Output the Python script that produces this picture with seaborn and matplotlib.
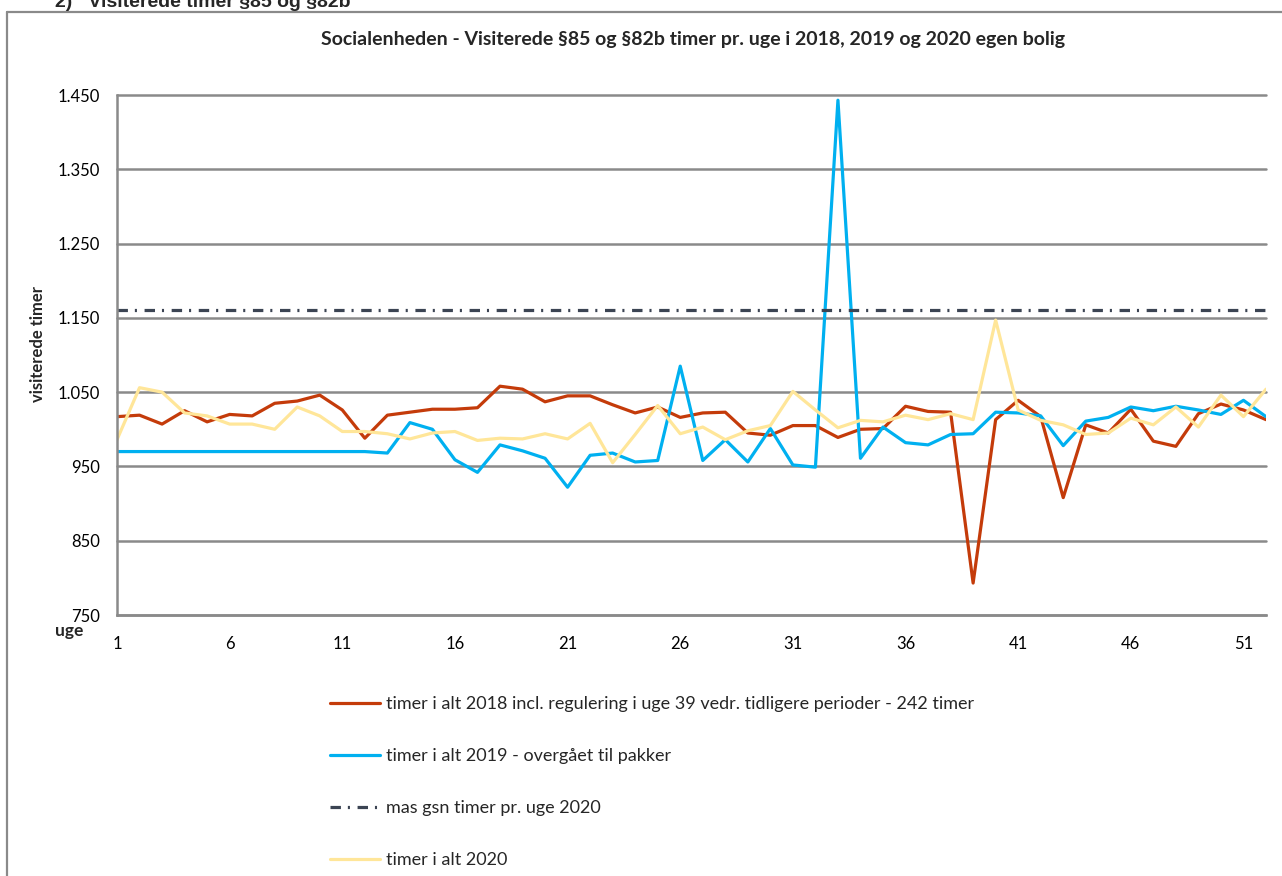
import numpy as np
import pandas as pd
import seaborn as sns
import matplotlib.pyplot as plt
from matplotlib.lines import Line2D
from matplotlib.ticker import FuncFormatter

weeks = list(range(1, 53))

timer_2018 = [1017, 1019, 1007, 1025, 1010, 1020, 1018, 1035, 1038, 1046,
              1026, 988, 1019, 1023, 1027, 1027, 1029, 1058, 1054, 1037,
              1045, 1045, 1033, 1022, 1030, 1016, 1022, 1023, 995, 992,
              1005, 1005, 989, 1000, 1001, 1031, 1024, 1023, 793, 1013,
              1039, 1017, 908, 1006, 995, 1027, 984, 977, 1021, 1034,
              1026, 1013]

timer_2019 = [970, 970, 970, 970, 970, 970, 970, 970, 970, 970,
              970, 970, 968, 1009, 1000, 959, 942, 979, 971, 961,
              922, 965, 968, 956, 958, 1085, 958, 986, 956, 1001,
              952, 949, 1443, 961, 1003, 982, 979, 993, 994, 1023,
              1022, 1018, 978, 1011, 1016, 1030, 1025, 1031, 1026, 1020,
              1039, 1017]

mas_gsn_2020 = [1160] * 52

timer_2020 = [986, 1056, 1050, 1022, 1018, 1007, 1007, 1000, 1030, 1018,
              997, 997, 994, 987, 995, 997, 985, 988, 987, 994,
              987, 1008, 955, 993, 1032, 994, 1003, 986, 998, 1005,
              1051, 1026, 1002, 1012, 1010, 1019, 1013, 1021, 1013, 1147,
              1026, 1012, 1006, 993, 995, 1015, 1006, 1030, 1003, 1046,
              1017, 1054]

labels = ["timer i alt 2018 incl. regulering i uge 39 vedr. tidligere perioder - 242 timer",
          "timer i alt 2019 - overgået til pakker",
          "mas gsn timer pr. uge 2020",
          "timer i alt 2020"]
xticks = list(range(1, 53, 5))
yticks = list(range(750, 1451, 100))

sns.set_theme(style="white")
plt.rcParams['font.family'] = ['Lato', 'DejaVu Sans']
plt.rcParams['lines.scale_dashes'] = False

W, H = 1282, 876
def fx(x): return x / W
def fy(y): return 1 - y / H

fig = plt.figure(figsize=(12.82, 8.76), dpi=100)
ax = fig.add_axes([fx(117), fy(615), (1266 - 117) / W, (615 - 95) / H])

grey = '#8a8a8a'
sns.lineplot(x=weeks, y=timer_2018, color='#C43B0A', lw=2.3, ax=ax, label=labels[0])
sns.lineplot(x=weeks, y=timer_2019, color='#00B0F0', lw=2.3, ax=ax, label=labels[1])
sns.lineplot(x=weeks, y=mas_gsn_2020, color='#3B4453', lw=2.3, ax=ax, label=labels[2],
             linestyle=(0, (7.5, 5, 1.5, 5.5)))
sns.lineplot(x=weeks, y=timer_2020, color='#FFE699', lw=2.3, ax=ax, label=labels[3])

ax.set_xlim(1, 52)
ax.set_ylim(750, 1450)
ax.set_xticks(xticks)
ax.set_yticks(yticks)
ax.yaxis.set_major_formatter(FuncFormatter(lambda v, p: f"{v:,.0f}".replace(",", ".")))
ax.set_xlabel("")
ax.set_ylabel("")
ax.yaxis.grid(True, color=grey, lw=1.8)
ax.xaxis.grid(False)
for gl in ax.get_ygridlines():
    gl.set_clip_on(False)
for s in ['top', 'right']:
    ax.spines[s].set_visible(False)
for s in ['left', 'bottom']:
    ax.spines[s].set_color(grey)
    ax.spines[s].set_linewidth(1.8)
ax.tick_params(axis='both', direction='out', length=5, width=1.2, color=grey,
               labelsize=12, labelcolor='black')
ax.tick_params(axis='x', pad=10)
ax.tick_params(axis='y', pad=7)

handles, labs = ax.get_legend_handles_labels()
if ax.get_legend() is not None:
    ax.get_legend().remove()
fig.legend(handles, labs, loc='center left', bbox_to_anchor=(fx(330), fy(782)),
           frameon=False, fontsize=13, handlelength=2.77, handletextpad=0.35,
           labelspacing=2.0, borderpad=0, borderaxespad=0)

fig.text(fx(693), fy(39), "Socialenheden - Visiterede §85 og §82b timer pr. uge i 2018, 2019 og 2020 egen bolig",
         ha='center', va='center', fontsize=14, fontweight='bold')
fig.text(fx(38), fy(344), "visiterede timer", rotation=90, ha='center', va='center',
         fontsize=12, fontweight='bold')
fig.text(fx(69), fy(631), "uge", ha='center', va='center', fontsize=12.5, fontweight='bold')
fig.text(fx(55), fy(7), "2)   Visiterede timer §85 og §82b", ha='left', va='baseline',
         fontsize=14, fontweight='bold', family=['Liberation Sans', 'DejaVu Sans'])

# outer chart border
fig.add_artist(Line2D([fx(7), fx(7)], [fy(12), 0], color=grey, lw=1.6))
fig.add_artist(Line2D([fx(7), 1], [fy(12), fy(12)], color=grey, lw=1.6))

fig.savefig("out.png", dpi=100)
